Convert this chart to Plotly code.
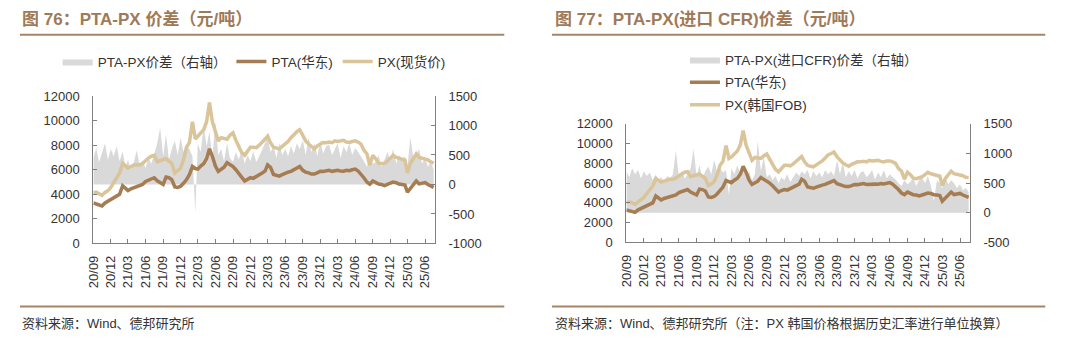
import pandas as pd
import plotly.graph_objects as go

# semi-monthly observation dates, 2020-09-01 .. 2025-07-16
dates = []
for y in range(2020, 2026):
    for m in range(1, 13):
        for d in (1, 16):
            dt = pd.Timestamp(year=y, month=m, day=d)
            if pd.Timestamp("2020-09-01") <= dt <= pd.Timestamp("2025-07-16"):
                dates.append(dt)

pta_east = [3300, 3200, 3100, 3050, 3300, 3450, 3550, 3700, 3850, 4000,
            4700, 4450, 4300, 4450, 4560, 4600, 4700, 4800, 5050, 5150,
            5300, 5350, 5100, 4950, 4800, 5400, 5350, 5200, 4600, 4560,
            4650, 4900, 5200, 5600, 6260, 6100, 6050, 6300, 6500, 6900,
            7700, 7100, 6300, 5870, 6050, 6200, 6570, 6400, 6260, 6000,
            5740, 5400, 5090, 5250, 5350, 5300, 5480, 5600, 5740, 5900,
            6390, 6200, 5610, 5550, 5480, 5600, 5740, 5800, 5870, 6000,
            6150, 6260, 5950, 5800, 5740, 5650, 5650, 5750, 5870, 5850,
            5900, 5950, 5870, 5900, 5950, 5900, 5880, 5950, 5920, 6000,
            6050, 5900, 5650, 5350, 5000, 4830, 5090, 4950, 4830, 4800,
            4700, 4800, 4900, 5000, 4950, 4830, 4800, 4750, 4170, 4500,
            4800, 5090, 4850, 4900, 4960, 4800, 4700, 4560]

px_spot = [4120, 4170, 4050, 3910, 4150, 4300, 4550, 4960, 5300, 5740,
           6520, 6300, 6130, 6250, 6390, 6400, 6390, 6500, 6780, 6950,
           7100, 7170, 6650, 6750, 6850, 6910, 6700, 6520, 5740, 5900,
           6130, 6800, 7830, 8200, 9900, 8500, 8700, 9000, 9260, 9910,
           11480, 9910, 9000, 8350, 8610, 8550, 8480, 8800, 9000, 8400,
           7830, 7400, 7170, 7500, 7830, 7830, 7800, 8000, 8220, 8500,
           8740, 8200, 7830, 7750, 7700, 7900, 8090, 8300, 8610, 8900,
           9100, 9260, 8700, 8350, 8090, 7900, 7700, 7950, 8100, 8220,
           8200, 8250, 8200, 8350, 8300, 8350, 8400, 8250, 8220, 8300,
           8350, 8250, 8090, 7600, 7300, 6390, 7170, 6900, 6520, 6500,
           6520, 6700, 6900, 7170, 7000, 6910, 6850, 6780, 5740, 6500,
           6910, 7300, 7000, 6950, 6910, 6800, 6650, 6520]

spread_spot = [450, 620, 380, 550, 700, 420, 600, 480, 650, 400, 560,
               300, 420, 250, 380, 580, 320, 400, 280, 450, 350,
               520, 700, 960, 480, 850, 420, 600,
               740, 500, 800, 550, 650,
               600, 480, -480, 700, 550,
               1010, 650, 900, 450,
               1070, 500, 600, 400, 700, 450,
               380, 550, 420, 580, 350, 500, 400, 560, 380, 480, 600, 700, 800,
               550, 650, 450, 700, 500, 600, 480, 650, 520, 700,
               600, 750, 500, 800, 550, 700, 480, 760, 520, 650,
               680, 500, 600, 700, 450, 650, 550, 700, 500, 620, 550, 480,
               400, 300, 450, 350, 380, 500, 300, 420,
               550, 400, 600, 350, 500, 420, 480, 300, 800, 450,
               500, 600, 350, 450, 300, 380, 250]

px_korea = [4000, 4100, 4000, 3850, 4100, 4300, 4550, 4950, 5300, 5700,
            6450, 6300, 6100, 6200, 6350, 6400, 6400, 6500, 6750, 6950,
            7100, 7150, 6650, 6750, 6850, 6900, 6700, 6500, 5750, 5900,
            6150, 6800, 7800, 8200, 9800, 8500, 8650, 9000, 9250, 9850,
            11320, 9850, 9000, 8300, 8600, 8550, 8500, 8750, 8950, 8400,
            7800, 7400, 7150, 7450, 7800, 7800, 7750, 7950, 8200, 8450,
            8700, 8150, 7800, 7700, 7650, 7850, 8050, 8250, 8550, 8850,
            9000, 9150, 8650, 8300, 8050, 7850, 7700, 7900, 8050, 8150,
            8150, 8200, 8150, 8300, 8250, 8300, 8300, 8200, 8150, 8250,
            8250, 8150, 8000, 7500, 7200, 6400, 7100, 6850, 6500, 6450,
            6550, 6650, 6850, 7100, 6950, 6850, 6800, 6700, 5750, 6450,
            6850, 7200, 6950, 6900, 6850, 6750, 6600, 6570]

spread_cfr = [700, 600, 750, 650, 720, 580, 700, 620, 680, 550, 640,
              560, 600, 520, 620, 580, 650, 1050, 600, 700, 580,
              650, 750, 1075, 620, 800, 580, 700,
              780, 650, 885, 700, 750,
              680, 720, 300, 750, 650,
              800, 650, 750, 600,
              700, 550, 650, 1210, 700, 940,
              600, 650, 550, 620, 500, 600, 550, 650, 520, 600, 680, 620, 700,
              650, 720, 580, 700, 620, 680, 600, 720, 650, 700,
              620, 885, 650, 850, 600, 700, 620, 720, 580, 680,
              700, 600, 650, 720, 560, 680, 600, 720, 580, 650, 600, 560,
              500, 450, 550, 480, 520, 600, 450, 560,
              600, 500, 620, 450, 200, 550, 500, 420, 600, 480,
              550, 500, 420, 480, 380, 420, 350]

spread_ticks_left = [-1000, -500, 0, 500, 1000, 1500]
spread_ticks_right = [-500, 0, 500, 1000, 1500]

GRAY = "#d9d9d9"
PTA_C = "#a67c52"
PX_C = "#dac59a"
RULE_C = "#a88466"
TITLE_C = "#a07a58"
TXT = "#333333"
W, H = 1080, 351
LW = 3.5

fig = go.Figure()
# left chart: spread on base axis y (right side), prices on overlaying y2 (left side)
fig.add_trace(go.Scatter(x=dates, y=spread_spot, name="PTA-PX价差（右轴）", fill="tozeroy",
                         fillcolor=GRAY, line=dict(width=0, color=GRAY), mode="lines",
                         xaxis="x", yaxis="y", legend="legend"))
fig.add_trace(go.Scatter(x=dates, y=pta_east, name="PTA(华东)", mode="lines",
                         line=dict(color=PTA_C, width=LW), xaxis="x", yaxis="y2", legend="legend"))
fig.add_trace(go.Scatter(x=dates, y=px_spot, name="PX(现货价)", mode="lines",
                         line=dict(color=PX_C, width=LW), xaxis="x", yaxis="y2", legend="legend"))
# right chart
fig.add_trace(go.Scatter(x=dates, y=spread_cfr, name="PTA-PX(进口CFR)价差（右轴）", fill="tozeroy",
                         fillcolor=GRAY, line=dict(width=0, color=GRAY), mode="lines",
                         xaxis="x2", yaxis="y3", legend="legend2", legendgroup="a"))
fig.add_trace(go.Scatter(x=dates, y=pta_east, name="PTA(华东)", mode="lines",
                         line=dict(color=PTA_C, width=LW), xaxis="x2", yaxis="y4",
                         legend="legend2", legendgroup="b"))
fig.add_trace(go.Scatter(x=dates, y=px_korea, name="PX(韩国FOB)", mode="lines",
                         line=dict(color=PX_C, width=LW), xaxis="x2", yaxis="y4",
                         legend="legend2", legendgroup="c"))

tickfont = dict(family="Liberation Sans, Arial", size=13, color=TXT)
common_y = dict(showgrid=False, zeroline=False, showline=True, linecolor="#808080", linewidth=1,
                ticks="inside", ticklen=4, tickcolor="#808080", tickfont=tickfont,
                ticklabelstandoff=10)
common_x = dict(type="date", showgrid=False, zeroline=False, showline=True, linecolor="#808080",
                linewidth=1, ticks="inside", ticklen=4, tickcolor="#808080", tickfont=tickfont,
                tickformat="%y/%m", dtick="M3", tick0="2020-09-01", tickangle=-90,
                range=["2020-09-01", "2025-07-22"], ticklabelstandoff=6)

fig.update_layout(
    width=W, height=H, margin=dict(l=0, r=0, t=0, b=0),
    paper_bgcolor="white", plot_bgcolor="white",
    font=dict(family="Liberation Sans, Noto Sans CJK SC", color=TXT, size=13),
    showlegend=True,
    xaxis=dict(domain=[86 / W, 430 / W], anchor="y", **common_x),
    yaxis=dict(domain=[1 - 247 / H, 1 - 93 / H], anchor="x", side="right", range=[-1000, 1500],
               tickvals=spread_ticks_left, ticktext=[str(v) for v in spread_ticks_left], **common_y),
    yaxis2=dict(overlaying="y", side="left", anchor="x", range=[0, 12000], dtick=2000,
                tickformat="d", **common_y),
    xaxis2=dict(domain=[623 / W, 969 / W], anchor="y3", **common_x),
    yaxis3=dict(domain=[1 - 246 / H, 1 - 122 / H], anchor="x2", side="right", range=[-500, 1500],
                tickvals=spread_ticks_right, ticktext=[str(v) for v in spread_ticks_right], **common_y),
    yaxis4=dict(overlaying="y3", side="left", anchor="x2", range=[0, 12000], dtick=2000,
                tickformat="d", **common_y),
    legend=dict(orientation="h", x=50 / W, y=1 - 41 / H, xanchor="left", yanchor="top",
                bgcolor="rgba(0,0,0,0)", font=dict(size=13.5, color=TXT), itemwidth=30,
                traceorder="normal"),
    legend2=dict(orientation="v", x=682 / W, y=1 - 39 / H, xanchor="left", yanchor="top",
                 bgcolor="rgba(0,0,0,0)", font=dict(size=13.5, color=TXT), itemwidth=30,
                 traceorder="grouped", tracegroupgap=2),
)

title_font = dict(family="Liberation Sans, Noto Sans CJK SC", size=17, color=TITLE_C, weight="bold")
fig.add_annotation(text="<b>图 76：PTA-PX 价差（元/吨）</b>", xref="paper", yref="paper",
                   x=12 / W, y=1 - 13 / H, xanchor="left", yanchor="middle", showarrow=False,
                   font=title_font)
fig.add_annotation(text="<b>图 77：PTA-PX(进口 CFR)价差（元/吨）</b>", xref="paper", yref="paper",
                   x=549 / W, y=1 - 13 / H, xanchor="left", yanchor="middle", showarrow=False,
                   font=title_font)
src_font = dict(family="Liberation Sans, Noto Sans CJK SC", size=13, color=TXT)
fig.add_annotation(text="资料来源：Wind、德邦研究所", xref="paper", yref="paper",
                   x=12 / W, y=1 - 331 / H, xanchor="left", yanchor="middle", showarrow=False,
                   font=src_font)
fig.add_annotation(text="资料来源：Wind、德邦研究所（注：PX 韩国价格根据历史汇率进行单位换算）",
                   xref="paper", yref="paper", x=549 / W, y=1 - 331 / H, xanchor="left",
                   yanchor="middle", showarrow=False, font=src_font)

for x0, x1 in ((12, 500), (548, 1045)):
    for yy in (29, 313):
        fig.add_shape(type="line", xref="paper", yref="paper", x0=x0 / W, x1=x1 / W,
                      y0=1 - yy / H, y1=1 - yy / H, line=dict(color=RULE_C, width=2))

fig.write_html("out.html")
